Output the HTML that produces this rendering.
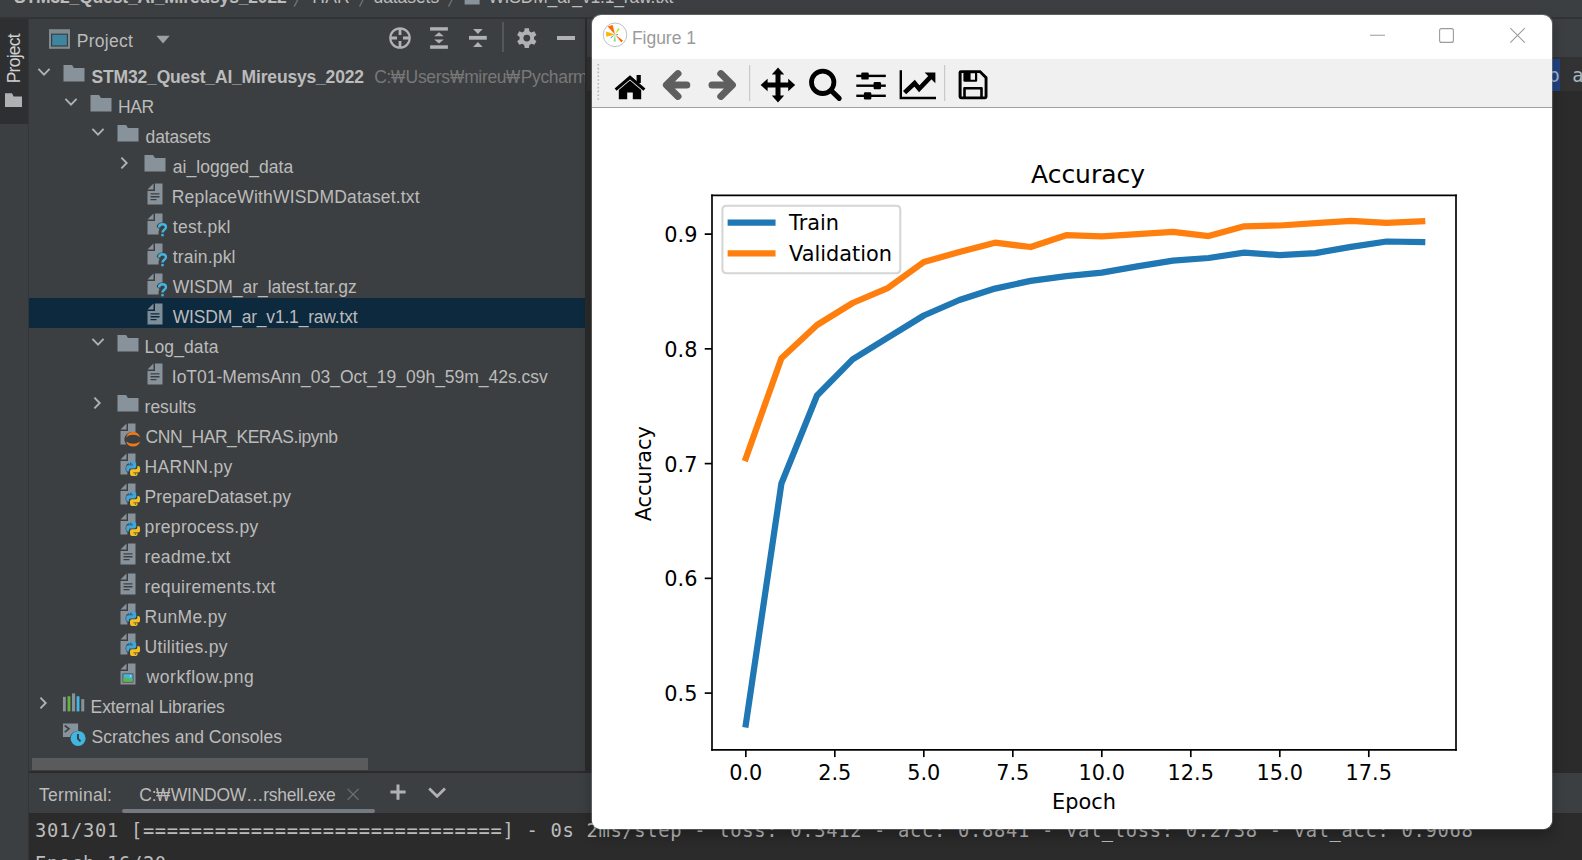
<!DOCTYPE html>
<html lang="en"><head><meta charset="utf-8"><title>Figure 1</title>
<style>
html,body{margin:0;padding:0}
html{background:#3c3f41}
body{width:1582px;height:860px;overflow:hidden;background:#3c3f41;position:relative;font-family:"Liberation Sans",sans-serif}
.abs{position:absolute}
.t{position:absolute;white-space:pre;line-height:30px;height:30px}
.won{display:inline-block;letter-spacing:0}
.won>span{display:inline-block;transform-origin:0 50%}
svg{position:absolute;display:block}
#figure_1 *{stroke-linejoin:round;stroke-linecap:butt}
</style></head>
<body>
<div class="abs" style="left:0px;top:16.9px;width:1582px;height:1.8px;background:#313335;"></div>
<svg style="left:280px;top:0" width="220" height="10" viewBox="280 0 220 10"><g stroke="#6f7376" stroke-width="1.3" fill="none"><path d="M298.6,-2 L294.2,6.6"/><path d="M363.9,-2 L359.5,6.6"/><path d="M452.9,-2 L448.5,6.6"/></g><rect x="464.6" y="-10" width="15" height="14.5" fill="#87929a"/></svg>
<div class="abs" style="left:0px;top:18.6px;width:28px;height:105.2px;background:#2d2f30;"></div>
<div class="abs" style="left:28px;top:17.5px;width:1px;height:843px;background:#333638;"></div>
<svg style="left:4px;top:92px" width="20" height="16" viewBox="0 0 20 16"><polygon fill="#afb1b3" points="1 15 18 15 18 4.6 9.6 4.6 8 1.2 1 1.2"/></svg>
<div class="abs" style="left:585.3px;top:17.5px;width:1.7px;height:754px;background:#2b2b2b;"></div>
<div class="abs" style="left:587px;top:57.3px;width:995px;height:714.5px;background:#2b2b2b;"></div>
<div class="abs" style="left:587px;top:57.3px;width:995px;height:33.6px;background:#323232;"></div>
<div class="abs" style="left:1540px;top:59px;width:20.3px;height:31.5px;background:#214283;"></div>
<svg style="left:48px;top:28px" width="24" height="22" viewBox="0 0 24 22">
<rect x="1" y="1.2" width="21" height="19.6" fill="#7f8b91"/><rect x="3" y="5.6" width="17" height="13" fill="#3c3f41"/><rect x="4.2" y="6.8" width="14.6" height="10.6" fill="#3e86a0"/></svg>
<svg style="left:155px;top:34px" width="16" height="11" viewBox="0 0 16 11"><polygon fill="#9da0a2" points="1.4,1.8 14.7,1.8 8.05,9.4"/></svg>
<svg style="left:388px;top:26px" width="24" height="24" viewBox="0 0 24 24"><g fill="none" stroke="#afb1b3" stroke-width="2.2">
<circle cx="12" cy="12" r="9.7"/><path stroke-width="2.8" d="M12,2.3 V9 M12,15 V21.7 M2.3,12 H9 M15,12 H21.7"/></g></svg>
<svg style="left:428px;top:26px" width="24" height="24" viewBox="0 0 24 24"><g fill="#afb1b3">
<rect x="2.1" y="1.2" width="17.8" height="3.4"/><rect x="2.1" y="19.3" width="17.8" height="3.5"/>
<polygon points="11,6.2 15.8,10.2 6.2,10.2"/><polygon points="11,17.6 15.8,13.4 6.2,13.4"/></g></svg>
<svg style="left:467px;top:26px" width="24" height="24" viewBox="0 0 24 24"><g fill="#afb1b3">
<rect x="2" y="9.9" width="17.8" height="3.8"/>
<polygon points="10.9,7.9 15.7,2.9 6.1,2.9"/><polygon points="10.9,16 15.7,21 6.1,21"/></g></svg>
<div class="abs" style="left:502px;top:22px;width:1.6px;height:30px;background:#555758;"></div>
<svg style="left:514px;top:26px" width="26" height="24" viewBox="0 0 26 24"><path fill="#afb1b3" fill-rule="evenodd" d="M10.69,2.22 L14.91,2.22 L15.37,5.27 L17.43,6.46 L20.30,5.34 L22.41,8.98 L20.00,10.91 L20.00,13.29 L22.41,15.22 L20.30,18.86 L17.43,17.74 L15.37,18.93 L14.91,21.98 L10.69,21.98 L10.23,18.93 L8.17,17.74 L5.30,18.86 L3.19,15.22 L5.60,13.29 L5.60,10.91 L3.19,8.98 L5.30,5.34 L8.17,6.46 L10.23,5.27 Z M16.2,12.1 A3.4,3.4 0 1 0 9.4,12.1 A3.4,3.4 0 1 0 16.2,12.1 Z"/></svg>
<div class="abs" style="left:557px;top:36.2px;width:18px;height:3.5px;background:#afb1b3;"></div>
<svg style="position:absolute;left:35.5px;top:63.900000000000006px" width="16" height="16" viewBox="-8 -8 16 16"><path d="M-5.6,-3.1 L0,2.7 L5.6,-3.1" fill="none" stroke="#afb1b3" stroke-width="1.9"/></svg>
<svg style="position:absolute;left:61.5px;top:61.7px;overflow:visible" width="24" height="24" viewBox="0 0 16 16"><polygon fill="#87929a" points="1 13 15 13 15 4 7.985 4 6.697 2 1 2"/></svg>
<svg style="position:absolute;left:62.5px;top:93.9px" width="16" height="16" viewBox="-8 -8 16 16"><path d="M-5.6,-3.1 L0,2.7 L5.6,-3.1" fill="none" stroke="#afb1b3" stroke-width="1.9"/></svg>
<svg style="position:absolute;left:88.5px;top:91.7px;overflow:visible" width="24" height="24" viewBox="0 0 16 16"><polygon fill="#87929a" points="1 13 15 13 15 4 7.985 4 6.697 2 1 2"/></svg>
<svg style="position:absolute;left:89.5px;top:123.9px" width="16" height="16" viewBox="-8 -8 16 16"><path d="M-5.6,-3.1 L0,2.7 L5.6,-3.1" fill="none" stroke="#afb1b3" stroke-width="1.9"/></svg>
<svg style="position:absolute;left:115.5px;top:121.7px;overflow:visible" width="24" height="24" viewBox="0 0 16 16"><polygon fill="#87929a" points="1 13 15 13 15 4 7.985 4 6.697 2 1 2"/></svg>
<svg style="position:absolute;left:116.4px;top:154.9px" width="16" height="16" viewBox="-8 -8 16 16"><path d="M-2.6,-5.4 L2.7,0 L-2.6,5.4" fill="none" stroke="#afb1b3" stroke-width="1.9"/></svg>
<svg style="position:absolute;left:142.5px;top:151.7px;overflow:visible" width="24" height="24" viewBox="0 0 16 16"><polygon fill="#87929a" points="1 13 15 13 15 4 7.985 4 6.697 2 1 2"/></svg>
<svg style="position:absolute;left:142.5px;top:181.7px;overflow:visible" width="24" height="24" viewBox="0 0 16 16"><polygon fill="#87929a" points="7 1 3 5 7 5"/><path fill="#87929a" fill-rule="evenodd" d="M8,1 L8,6 L3,6 L3,15 L13,15 L13,1 Z M5,7.5 L11,7.5 L11,8.4 L5,8.4 Z M5,9.4 L11,9.4 L11,10.3 L5,10.3 Z M5,11.3 L9,11.3 L9,12.2 L5,12.2 Z"/></svg>
<svg style="position:absolute;left:142.5px;top:211.7px;overflow:visible" width="24" height="24" viewBox="0 0 16 16"><polygon fill="#87929a" points="7 1 3 5 7 5"/><path fill="#87929a" d="M8,1 L8,6 L3,6 L3,15 L10.4,15 L10.4,13.2 C10.4,12 11,11.6 11,11.3 L9.2,10 C9.2,8.4 10.6,7 13,7 L13,1 Z"/><path fill="none" stroke="#40b6e0" stroke-width="1.6" d="M10.7,10.3 C10.7,8.9 11.7,8.2 13,8.2 C14.4,8.2 15.3,9 15.3,10.1 C15.3,11.9 13,11.8 13,13.7"/><rect x="12.2" y="14.6" width="1.6" height="1.6" fill="#40b6e0"/></svg>
<svg style="position:absolute;left:142.5px;top:241.7px;overflow:visible" width="24" height="24" viewBox="0 0 16 16"><polygon fill="#87929a" points="7 1 3 5 7 5"/><path fill="#87929a" d="M8,1 L8,6 L3,6 L3,15 L10.4,15 L10.4,13.2 C10.4,12 11,11.6 11,11.3 L9.2,10 C9.2,8.4 10.6,7 13,7 L13,1 Z"/><path fill="none" stroke="#40b6e0" stroke-width="1.6" d="M10.7,10.3 C10.7,8.9 11.7,8.2 13,8.2 C14.4,8.2 15.3,9 15.3,10.1 C15.3,11.9 13,11.8 13,13.7"/><rect x="12.2" y="14.6" width="1.6" height="1.6" fill="#40b6e0"/></svg>
<svg style="position:absolute;left:142.5px;top:271.7px;overflow:visible" width="24" height="24" viewBox="0 0 16 16"><polygon fill="#87929a" points="7 1 3 5 7 5"/><path fill="#87929a" d="M8,1 L8,6 L3,6 L3,15 L10.4,15 L10.4,13.2 C10.4,12 11,11.6 11,11.3 L9.2,10 C9.2,8.4 10.6,7 13,7 L13,1 Z"/><path fill="none" stroke="#40b6e0" stroke-width="1.6" d="M10.7,10.3 C10.7,8.9 11.7,8.2 13,8.2 C14.4,8.2 15.3,9 15.3,10.1 C15.3,11.9 13,11.8 13,13.7"/><rect x="12.2" y="14.6" width="1.6" height="1.6" fill="#40b6e0"/></svg>
<div style="position:absolute;left:29px;top:298px;width:556px;height:30px;background:#0d293e"></div>
<svg style="position:absolute;left:142.5px;top:301.7px;overflow:visible" width="24" height="24" viewBox="0 0 16 16"><polygon fill="#7e8e99" points="7 1 3 5 7 5"/><path fill="#7e8e99" fill-rule="evenodd" d="M8,1 L8,6 L3,6 L3,15 L13,15 L13,1 Z M5,7.5 L11,7.5 L11,8.4 L5,8.4 Z M5,9.4 L11,9.4 L11,10.3 L5,10.3 Z M5,11.3 L9,11.3 L9,12.2 L5,12.2 Z"/></svg>
<svg style="position:absolute;left:89.5px;top:333.9px" width="16" height="16" viewBox="-8 -8 16 16"><path d="M-5.6,-3.1 L0,2.7 L5.6,-3.1" fill="none" stroke="#afb1b3" stroke-width="1.9"/></svg>
<svg style="position:absolute;left:115.5px;top:331.7px;overflow:visible" width="24" height="24" viewBox="0 0 16 16"><polygon fill="#87929a" points="1 13 15 13 15 4 7.985 4 6.697 2 1 2"/></svg>
<svg style="position:absolute;left:142.5px;top:361.7px;overflow:visible" width="24" height="24" viewBox="0 0 16 16"><polygon fill="#87929a" points="7 1 3 5 7 5"/><path fill="#87929a" fill-rule="evenodd" d="M8,1 L8,6 L3,6 L3,15 L13,15 L13,1 Z M5,7.5 L11,7.5 L11,8.4 L5,8.4 Z M5,9.4 L11,9.4 L11,10.3 L5,10.3 Z M5,11.3 L9,11.3 L9,12.2 L5,12.2 Z"/></svg>
<svg style="position:absolute;left:89.4px;top:394.9px" width="16" height="16" viewBox="-8 -8 16 16"><path d="M-2.6,-5.4 L2.7,0 L-2.6,5.4" fill="none" stroke="#afb1b3" stroke-width="1.9"/></svg>
<svg style="position:absolute;left:115.5px;top:391.7px;overflow:visible" width="24" height="24" viewBox="0 0 16 16"><polygon fill="#87929a" points="1 13 15 13 15 4 7.985 4 6.697 2 1 2"/></svg>
<svg style="position:absolute;left:115.5px;top:421.7px;overflow:visible" width="24" height="24" viewBox="0 0 16 16"><polygon fill="#87929a" points="7 1 3 5 7 5"/><path fill="#87929a" d="M8,1 L8,6 L3,6 L3,15 L7,15 C6,13.8 5.6,12.8 5.6,11.7 C5.6,9 7.8,6.8 10.6,6.6 L13,6.6 L13,1 Z"/><path fill="#ee7a1a" d="M6.75,10.15 A4.87,4.87 0 0 1 16.05,10.15 A7.6,7.6 0 0 0 6.75,10.15 Z M6.75,12.95 A4.87,4.87 0 0 0 16.05,12.95 A7.6,7.6 0 0 1 6.75,12.95 Z"/></svg>
<svg style="position:absolute;left:115.5px;top:451.7px;overflow:visible" width="24" height="24" viewBox="0 0 16 16"><polygon fill="#87929a" points="7 1 3 5 7 5"/><path fill="#87929a" d="M8,1 L8,6 L3,6 L3,15 L7.6,15 L7.6,13.6 C6.8,13 6.4,12.2 6.4,11 C6.4,8.6 8,7 10.4,6.6 L13,6.6 L13,1 Z"/><g transform="translate(0.15,-0.35) scale(0.98)"><path fill="#3fa6dc" d="M9.6,7 h2.8 a1.2,1.2 0 0 1 1.2,1.2 v2.1 a1.2,1.2 0 0 1 -1.2,1.2 h-2.6 a1.2,1.2 0 0 0 -1.2,1.2 v1 h-0.5 a1.3,1.3 0 0 1 -1.3,-1.3 v-1.8 a1.3,1.3 0 0 1 1.3,-1.3 h3.2 v-0.5 h-2.9 v-0.6 a1.2,1.2 0 0 1 1.2,-1.2 z"/><path fill="#f3c123" d="M13.4,16.6 h-2.8 a1.2,1.2 0 0 1 -1.2,-1.2 v-2.1 a1.2,1.2 0 0 1 1.2,-1.2 h2.6 a1.2,1.2 0 0 0 1.2,-1.2 v-1 h0.5 a1.3,1.3 0 0 1 1.3,1.3 v1.8 a1.3,1.3 0 0 1 -1.3,1.3 h-3.2 v0.5 h2.9 v0.6 a1.2,1.2 0 0 1 -1.2,1.2 z"/><circle cx="9.9" cy="8.2" r="0.45" fill="#3c3f41"/><circle cx="13.1" cy="15.4" r="0.45" fill="#3c3f41"/></g></svg>
<svg style="position:absolute;left:115.5px;top:481.7px;overflow:visible" width="24" height="24" viewBox="0 0 16 16"><polygon fill="#87929a" points="7 1 3 5 7 5"/><path fill="#87929a" d="M8,1 L8,6 L3,6 L3,15 L7.6,15 L7.6,13.6 C6.8,13 6.4,12.2 6.4,11 C6.4,8.6 8,7 10.4,6.6 L13,6.6 L13,1 Z"/><g transform="translate(0.15,-0.35) scale(0.98)"><path fill="#3fa6dc" d="M9.6,7 h2.8 a1.2,1.2 0 0 1 1.2,1.2 v2.1 a1.2,1.2 0 0 1 -1.2,1.2 h-2.6 a1.2,1.2 0 0 0 -1.2,1.2 v1 h-0.5 a1.3,1.3 0 0 1 -1.3,-1.3 v-1.8 a1.3,1.3 0 0 1 1.3,-1.3 h3.2 v-0.5 h-2.9 v-0.6 a1.2,1.2 0 0 1 1.2,-1.2 z"/><path fill="#f3c123" d="M13.4,16.6 h-2.8 a1.2,1.2 0 0 1 -1.2,-1.2 v-2.1 a1.2,1.2 0 0 1 1.2,-1.2 h2.6 a1.2,1.2 0 0 0 1.2,-1.2 v-1 h0.5 a1.3,1.3 0 0 1 1.3,1.3 v1.8 a1.3,1.3 0 0 1 -1.3,1.3 h-3.2 v0.5 h2.9 v0.6 a1.2,1.2 0 0 1 -1.2,1.2 z"/><circle cx="9.9" cy="8.2" r="0.45" fill="#3c3f41"/><circle cx="13.1" cy="15.4" r="0.45" fill="#3c3f41"/></g></svg>
<svg style="position:absolute;left:115.5px;top:511.7px;overflow:visible" width="24" height="24" viewBox="0 0 16 16"><polygon fill="#87929a" points="7 1 3 5 7 5"/><path fill="#87929a" d="M8,1 L8,6 L3,6 L3,15 L7.6,15 L7.6,13.6 C6.8,13 6.4,12.2 6.4,11 C6.4,8.6 8,7 10.4,6.6 L13,6.6 L13,1 Z"/><g transform="translate(0.15,-0.35) scale(0.98)"><path fill="#3fa6dc" d="M9.6,7 h2.8 a1.2,1.2 0 0 1 1.2,1.2 v2.1 a1.2,1.2 0 0 1 -1.2,1.2 h-2.6 a1.2,1.2 0 0 0 -1.2,1.2 v1 h-0.5 a1.3,1.3 0 0 1 -1.3,-1.3 v-1.8 a1.3,1.3 0 0 1 1.3,-1.3 h3.2 v-0.5 h-2.9 v-0.6 a1.2,1.2 0 0 1 1.2,-1.2 z"/><path fill="#f3c123" d="M13.4,16.6 h-2.8 a1.2,1.2 0 0 1 -1.2,-1.2 v-2.1 a1.2,1.2 0 0 1 1.2,-1.2 h2.6 a1.2,1.2 0 0 0 1.2,-1.2 v-1 h0.5 a1.3,1.3 0 0 1 1.3,1.3 v1.8 a1.3,1.3 0 0 1 -1.3,1.3 h-3.2 v0.5 h2.9 v0.6 a1.2,1.2 0 0 1 -1.2,1.2 z"/><circle cx="9.9" cy="8.2" r="0.45" fill="#3c3f41"/><circle cx="13.1" cy="15.4" r="0.45" fill="#3c3f41"/></g></svg>
<svg style="position:absolute;left:115.5px;top:541.7px;overflow:visible" width="24" height="24" viewBox="0 0 16 16"><polygon fill="#87929a" points="7 1 3 5 7 5"/><path fill="#87929a" fill-rule="evenodd" d="M8,1 L8,6 L3,6 L3,15 L13,15 L13,1 Z M5,7.5 L11,7.5 L11,8.4 L5,8.4 Z M5,9.4 L11,9.4 L11,10.3 L5,10.3 Z M5,11.3 L9,11.3 L9,12.2 L5,12.2 Z"/></svg>
<svg style="position:absolute;left:115.5px;top:571.7px;overflow:visible" width="24" height="24" viewBox="0 0 16 16"><polygon fill="#87929a" points="7 1 3 5 7 5"/><path fill="#87929a" fill-rule="evenodd" d="M8,1 L8,6 L3,6 L3,15 L13,15 L13,1 Z M5,7.5 L11,7.5 L11,8.4 L5,8.4 Z M5,9.4 L11,9.4 L11,10.3 L5,10.3 Z M5,11.3 L9,11.3 L9,12.2 L5,12.2 Z"/></svg>
<svg style="position:absolute;left:115.5px;top:601.7px;overflow:visible" width="24" height="24" viewBox="0 0 16 16"><polygon fill="#87929a" points="7 1 3 5 7 5"/><path fill="#87929a" d="M8,1 L8,6 L3,6 L3,15 L7.6,15 L7.6,13.6 C6.8,13 6.4,12.2 6.4,11 C6.4,8.6 8,7 10.4,6.6 L13,6.6 L13,1 Z"/><g transform="translate(0.15,-0.35) scale(0.98)"><path fill="#3fa6dc" d="M9.6,7 h2.8 a1.2,1.2 0 0 1 1.2,1.2 v2.1 a1.2,1.2 0 0 1 -1.2,1.2 h-2.6 a1.2,1.2 0 0 0 -1.2,1.2 v1 h-0.5 a1.3,1.3 0 0 1 -1.3,-1.3 v-1.8 a1.3,1.3 0 0 1 1.3,-1.3 h3.2 v-0.5 h-2.9 v-0.6 a1.2,1.2 0 0 1 1.2,-1.2 z"/><path fill="#f3c123" d="M13.4,16.6 h-2.8 a1.2,1.2 0 0 1 -1.2,-1.2 v-2.1 a1.2,1.2 0 0 1 1.2,-1.2 h2.6 a1.2,1.2 0 0 0 1.2,-1.2 v-1 h0.5 a1.3,1.3 0 0 1 1.3,1.3 v1.8 a1.3,1.3 0 0 1 -1.3,1.3 h-3.2 v0.5 h2.9 v0.6 a1.2,1.2 0 0 1 -1.2,1.2 z"/><circle cx="9.9" cy="8.2" r="0.45" fill="#3c3f41"/><circle cx="13.1" cy="15.4" r="0.45" fill="#3c3f41"/></g></svg>
<svg style="position:absolute;left:115.5px;top:631.7px;overflow:visible" width="24" height="24" viewBox="0 0 16 16"><polygon fill="#87929a" points="7 1 3 5 7 5"/><path fill="#87929a" d="M8,1 L8,6 L3,6 L3,15 L7.6,15 L7.6,13.6 C6.8,13 6.4,12.2 6.4,11 C6.4,8.6 8,7 10.4,6.6 L13,6.6 L13,1 Z"/><g transform="translate(0.15,-0.35) scale(0.98)"><path fill="#3fa6dc" d="M9.6,7 h2.8 a1.2,1.2 0 0 1 1.2,1.2 v2.1 a1.2,1.2 0 0 1 -1.2,1.2 h-2.6 a1.2,1.2 0 0 0 -1.2,1.2 v1 h-0.5 a1.3,1.3 0 0 1 -1.3,-1.3 v-1.8 a1.3,1.3 0 0 1 1.3,-1.3 h3.2 v-0.5 h-2.9 v-0.6 a1.2,1.2 0 0 1 1.2,-1.2 z"/><path fill="#f3c123" d="M13.4,16.6 h-2.8 a1.2,1.2 0 0 1 -1.2,-1.2 v-2.1 a1.2,1.2 0 0 1 1.2,-1.2 h2.6 a1.2,1.2 0 0 0 1.2,-1.2 v-1 h0.5 a1.3,1.3 0 0 1 1.3,1.3 v1.8 a1.3,1.3 0 0 1 -1.3,1.3 h-3.2 v0.5 h2.9 v0.6 a1.2,1.2 0 0 1 -1.2,1.2 z"/><circle cx="9.9" cy="8.2" r="0.45" fill="#3c3f41"/><circle cx="13.1" cy="15.4" r="0.45" fill="#3c3f41"/></g></svg>
<svg style="position:absolute;left:115.5px;top:661.7px;overflow:visible" width="24" height="24" viewBox="0 0 16 16"><polygon fill="#87929a" points="7 1 3 5 7 5"/><path fill="#87929a" fill-rule="evenodd" d="M8,1 L8,6 L3,6 L3,15 L13,15 L13,1 Z M4.4,7.6 L11.6,7.6 L11.6,13.6 L4.4,13.6 Z"/><rect x="4.9" y="8.1" width="6.2" height="5" fill="#40b6e0"/><path fill="#62b543" d="M4.9,13.1 L4.9,11.2 C6,10 7.4,10 8.4,11 C9.4,11.6 10.2,11.2 11.1,11.4 L11.1,13.1 Z"/><circle cx="9.8" cy="9.3" r="0.5" fill="#cfe9f5"/></svg>
<svg style="position:absolute;left:35.4px;top:694.9px" width="16" height="16" viewBox="-8 -8 16 16"><path d="M-2.6,-5.4 L2.7,0 L-2.6,5.4" fill="none" stroke="#afb1b3" stroke-width="1.9"/></svg>
<svg style="position:absolute;left:60.9px;top:690.7px;overflow:visible" width="24" height="24" viewBox="0 0 16 16"><rect x="1.3" y="3.9" width="1.9" height="9.7" fill="#87929a"/><rect x="4.35" y="3.5" width="1.9" height="10.1" fill="#62b543"/><rect x="7.3" y="1.6" width="2.1" height="12" fill="#87929a"/><rect x="10.4" y="3.5" width="1.9" height="10.1" fill="#40b6e0"/><rect x="13.5" y="5.4" width="2" height="8.2" fill="#87929a"/></svg>
<svg style="position:absolute;left:60.9px;top:720.7px;overflow:visible" width="24" height="24" viewBox="0 0 16 16"><path fill="#87929a" d="M1.3,1.7 L11.4,1.7 L11.4,6.6 C8.6,6.6 6.4,8.4 6.2,10.6 L1.3,10.6 Z"/><path fill="none" stroke="#3c3f41" stroke-width="1.1" d="M2.5,3 L5.3,5.2 L2.5,7.4"/><circle cx="11.4" cy="11.6" r="5" fill="#40b6e0"/><path fill="none" stroke="#3c3f41" stroke-width="1.3" d="M11.3,8.6 L11.3,11.8 L13,13.6"/></svg>
<div class="abs" style="left:32.3px;top:758px;width:336px;height:12px;background:#595b5d;"></div>
<div class="abs" style="left:29px;top:771px;width:1553px;height:1.7px;background:#2b2b2b;"></div>
<div class="abs" style="left:122.2px;top:809.2px;width:253.2px;height:4px;background:#747a80;border-radius:2px 2px 2px 2px"></div>
<div class="abs" style="left:29px;top:812.6px;width:1553px;height:48px;background:#2b2b2b;"></div>
<svg style="left:345px;top:786px" width="16" height="16" viewBox="0 0 16 16"><path d="M2.6,2.9 L13.6,13.7 M13.6,2.9 L2.6,13.7" stroke="#6e7072" stroke-width="1.2" fill="none"/></svg>
<svg style="left:388px;top:782px" width="20" height="20" viewBox="0 0 20 20"><path d="M10,2.5 V17.7 M2.4,10.1 H17.6" stroke="#afb1b3" stroke-width="3" fill="none"/></svg>
<svg style="left:426px;top:784px" width="22" height="18" viewBox="0 0 22 18"><path d="M3.2,4.6 L11.1,12.2 L19,4.6" stroke="#afb1b3" stroke-width="2.8" fill="none"/></svg>
<div class="t" style="left:35.00px;top:815.70px;color:#bbbbbb;font-weight:normal;font-size:18.8px;letter-spacing:0.680px;font-family:'DejaVu Sans Mono', 'Liberation Mono', monospace;">301/301 [==============================] - 0s 2ms/step - loss: 0.3412 - acc: 0.8841 - val_loss: 0.2738 - val_acc: 0.9068</div>
<div class="t" style="left:35.00px;top:849.10px;color:#bbbbbb;font-weight:normal;font-size:18.8px;letter-spacing:0.680px;font-family:'DejaVu Sans Mono', 'Liberation Mono', monospace;">Epoch 16/20</div>
<div class="t" style="left:1548.40px;top:60.50px;color:#a9b7c6;font-weight:normal;font-size:18.8px;letter-spacing:0.680px;font-family:'DejaVu Sans Mono', 'Liberation Mono', monospace;">o a</div>
<div class="t" style="left:0px;top:0px;line-height:0;height:0;color:#d0d0d0;font-size:17.5px;letter-spacing:-0.75px;transform:translate(14.1px,83.3px) rotate(-90deg);transform-origin:0 0"><span style="display:inline-block;line-height:0;position:relative;top:0">Project</span></div>
<div class="t" style="left:91.60px;top:61.54px;color:#bbbbbb;font-weight:bold;font-size:17.5px;letter-spacing:-0.178px;">STM32_Quest_AI_Mireusys_2022</div>
<div class="t" style="left:117.90px;top:91.54px;color:#bbbbbb;font-weight:normal;font-size:17.5px;letter-spacing:-0.305px;">HAR</div>
<div class="t" style="left:145.60px;top:121.54px;color:#bbbbbb;font-weight:normal;font-size:17.5px;letter-spacing:-0.144px;">datasets</div>
<div class="t" style="left:172.80px;top:151.54px;color:#bbbbbb;font-weight:normal;font-size:17.5px;letter-spacing:0.049px;">ai_logged_data</div>
<div class="t" style="left:171.80px;top:181.54px;color:#bbbbbb;font-weight:normal;font-size:17.5px;letter-spacing:0.182px;">ReplaceWithWISDMDataset.txt</div>
<div class="t" style="left:172.80px;top:211.54px;color:#bbbbbb;font-weight:normal;font-size:17.5px;letter-spacing:0.307px;">test.pkl</div>
<div class="t" style="left:172.80px;top:241.54px;color:#bbbbbb;font-weight:normal;font-size:17.5px;letter-spacing:0.177px;">train.pkl</div>
<div class="t" style="left:172.80px;top:271.54px;color:#bbbbbb;font-weight:normal;font-size:17.5px;letter-spacing:-0.040px;">WISDM_ar_latest.tar.gz</div>
<div class="t" style="left:172.80px;top:301.54px;color:#bbbbbb;font-weight:normal;font-size:17.5px;letter-spacing:-0.195px;">WISDM_ar_v1.1_raw.txt</div>
<div class="t" style="left:144.60px;top:331.54px;color:#bbbbbb;font-weight:normal;font-size:17.5px;letter-spacing:0.120px;">Log_data</div>
<div class="t" style="left:171.80px;top:361.54px;color:#bbbbbb;font-weight:normal;font-size:17.5px;letter-spacing:-0.011px;">IoT01-MemsAnn_03_Oct_19_09h_59m_42s.csv</div>
<div class="t" style="left:144.60px;top:391.54px;color:#bbbbbb;font-weight:normal;font-size:17.5px;letter-spacing:-0.032px;">results</div>
<div class="t" style="left:145.60px;top:421.54px;color:#bbbbbb;font-weight:normal;font-size:17.5px;letter-spacing:-0.440px;">CNN_HAR_KERAS.ipynb</div>
<div class="t" style="left:144.60px;top:451.54px;color:#bbbbbb;font-weight:normal;font-size:17.5px;letter-spacing:0.283px;">HARNN.py</div>
<div class="t" style="left:144.60px;top:481.54px;color:#bbbbbb;font-weight:normal;font-size:17.5px;letter-spacing:0.027px;">PrepareDataset.py</div>
<div class="t" style="left:144.60px;top:511.54px;color:#bbbbbb;font-weight:normal;font-size:17.5px;letter-spacing:0.320px;">preprocess.py</div>
<div class="t" style="left:144.60px;top:541.54px;color:#bbbbbb;font-weight:normal;font-size:17.5px;letter-spacing:0.343px;">readme.txt</div>
<div class="t" style="left:144.60px;top:571.54px;color:#bbbbbb;font-weight:normal;font-size:17.5px;letter-spacing:0.360px;">requirements.txt</div>
<div class="t" style="left:144.60px;top:601.54px;color:#bbbbbb;font-weight:normal;font-size:17.5px;letter-spacing:0.299px;">RunMe.py</div>
<div class="t" style="left:144.60px;top:631.54px;color:#bbbbbb;font-weight:normal;font-size:17.5px;letter-spacing:0.283px;">Utilities.py</div>
<div class="t" style="left:146.60px;top:661.54px;color:#bbbbbb;font-weight:normal;font-size:17.5px;letter-spacing:0.552px;">workflow.png</div>
<div class="t" style="left:90.60px;top:691.54px;color:#bbbbbb;font-weight:normal;font-size:17.5px;letter-spacing:-0.113px;">External Libraries</div>
<div class="t" style="left:91.60px;top:721.54px;color:#bbbbbb;font-weight:normal;font-size:17.5px;letter-spacing:0.036px;">Scratches and Consoles</div>
<div class="t" style="left:76.70px;top:25.94px;color:#bbbbbb;font-weight:normal;font-size:17.5px;letter-spacing:0.283px;">Project</div>
<div class="t" style="left:39.10px;top:779.94px;color:#bbbbbb;font-weight:normal;font-size:17.5px;letter-spacing:0.221px;">Terminal:</div>
<div class="t" style="left:374.20px;top:61.54px;color:#787878;font-weight:normal;font-size:17.5px;letter-spacing:-0.350px;width:211.10px;overflow:hidden;">C:<span class="won" style="width:14.6px"><span style="transform:scaleX(0.86)">₩</span></span>Users<span class="won" style="width:14.6px"><span style="transform:scaleX(0.86)">₩</span></span>mireu<span class="won" style="width:14.6px"><span style="transform:scaleX(0.86)">₩</span></span>PycharmProjects</div>
<div class="t" style="left:139.30px;top:779.94px;color:#bbbbbb;font-weight:normal;font-size:17.5px;letter-spacing:-0.270px;">C:<span class="won" style="width:14.6px"><span style="transform:scaleX(0.86)">₩</span></span>WINDOW…rshell.exe</div>
<div class="t" style="left:14.00px;top:-18.26px;color:#bbbbbb;font-weight:bold;font-size:17.5px;letter-spacing:-0.167px;">STM32_Quest_AI_Mireusys_2022</div>
<div class="t" style="left:312.30px;top:-18.26px;color:#bbbbbb;font-weight:normal;font-size:17.5px;letter-spacing:0.245px;">HAR</div>
<div class="t" style="left:373.50px;top:-18.26px;color:#bbbbbb;font-weight:normal;font-size:17.5px;letter-spacing:-0.072px;">datasets</div>
<div class="t" style="left:488.20px;top:-18.26px;color:#bbbbbb;font-weight:normal;font-size:17.5px;letter-spacing:-0.175px;">WISDM_ar_v1.1_raw.txt</div>
<div class="abs" id="win" style="left:592px;top:14.8px;width:960px;height:814.2px;background:#fff;border-radius:9px;box-shadow:0 0 0 1.1px rgba(150,150,150,.42),0 6px 14px rgba(0,0,0,.3);overflow:hidden">
<div class="abs" style="left:0;top:-0.8px;width:960px;height:815px">
<div class="abs" style="left:0;top:45px;width:960px;height:48px;background:#f0f0f0;border-bottom:1.4px solid #a0a0a0;box-sizing:content-box"></div>
<svg style="left:0;top:0" width="960" height="96" viewBox="592 14 960 96"><!-- matplotlib logo -->
<g>
<circle cx="615" cy="34.8" r="11.8" fill="#fff" stroke="#b9b9b9" stroke-width="0.9"/>
<polygon fill="#ff6a00" points="615,34.6 607.6,26.6 612.6,24.9"/>
<polygon fill="#ff6a00" points="615,34.6 623,40.6 621.4,42.4"/>
<polygon fill="#ffb300" points="615,34.6 606.2,31.4 606.2,36.8"/>
<polygon fill="#b4f02c" points="615,34.6 618,28.0 619.9,29.3"/>
<polygon fill="#7fe37a" points="615,34.6 613.5,41.6 615.9,41.6"/>
<polygon fill="#4fb8a0" points="615,34.6 610.4,37.2 611.2,38.2"/>
<polygon fill="#3b6fd0" points="615,34.6 618,33.9 618,35"/>
</g>
<!-- window controls -->
<g fill="none" stroke="#9b9b9b" stroke-width="1.1">
<path d="M1370,35.3 H1385"/>
<rect x="1439.6" y="28.6" width="13.8" height="13.8" rx="2"/>
<path d="M1510.3,28.1 L1524.8,42.6 M1524.8,28.1 L1510.3,42.6"/>
</g>
<!-- toolbar grip -->
<path d="M598.3,64 V102" stroke="#b4b4b4" stroke-width="1.6" stroke-dasharray="1.6 2.2" fill="none"/>
<!-- home -->
<g fill="#000">
<path d="M630,75.2 L645.4,88.4 L643.4,90.8 L630,79.4 L616.6,90.8 L614.6,88.4 Z"/>
<rect x="636.6" y="75" width="4.2" height="8"/>
<path d="M630,80.5 L641.2,90 V99.2 H632.8 V92.6 H627.2 V99.2 H618.8 V90 Z"/>
</g>
<!-- back / forward -->
<g fill="none" stroke="#5f5f5f" stroke-width="7" stroke-linecap="round" stroke-linejoin="round">
<path d="M678,73.6 L666.4,85 L678,96.4 M667.4,85 H686.8"/>
<path d="M720.8,73.6 L732.4,85 L720.8,96.4 M731.4,85 H712"/>
</g>
<path d="M749.6,65 V101" stroke="#c9c9c9" stroke-width="1.2"/>
<!-- pan -->
<g fill="#000">
<rect x="775.5" y="72" width="5" height="26"/>
<rect x="765" y="82.5" width="26" height="5"/>
<polygon points="778,67.4 784.2,74.4 771.8,74.4"/>
<polygon points="778,102.4 784.2,95.6 771.8,95.6"/>
<polygon points="760.6,85 767.6,78.8 767.6,91.2"/>
<polygon points="795.2,85 788.2,78.8 788.2,91.2"/>
</g>
<!-- zoom -->
<g fill="none" stroke="#000">
<circle cx="822.7" cy="82.3" r="11.2" stroke-width="4.8"/>
<path d="M831.2,90.6 L839.2,98.4" stroke-width="5" stroke-linecap="round"/>
</g>
<!-- sliders -->
<g fill="#000">
<rect x="856.3" y="74.7" width="29.5" height="2.4"/>
<rect x="856.3" y="84.5" width="29.5" height="2.4"/>
<rect x="856.3" y="94.6" width="29.5" height="2.4"/>
<rect x="861.3" y="72.4" width="7.4" height="7.2" rx="1.2"/>
<rect x="873.6" y="82.1" width="7.4" height="7.2" rx="1.2"/>
<rect x="863.9" y="92.2" width="7.4" height="7.2" rx="1.2"/>
</g>
<!-- chart -->
<g fill="none" stroke="#000">
<path d="M900.8,70.2 V98 H936" stroke-width="2.4"/>
<path d="M904.6,92.6 L914.6,83.2 L919.2,88.8 L930.4,77.2" stroke-width="4.6" stroke-linejoin="miter"/>
</g>
<polygon fill="#000" points="924.6,72.4 935.4,72.4 935.4,83.2"/>
<path d="M944.6,65 V101" stroke="#c9c9c9" stroke-width="1.2"/>
<!-- save -->
<g>
<path fill="#000" fill-rule="evenodd" d="M961,70.2 H980.6 L987.5,77.1 V96.8 A2.4,2.4 0 0 1 985.1,99.2 H961 A2.4,2.4 0 0 1 958.6,96.8 V72.6 A2.4,2.4 0 0 1 961,70.2 Z M961.6,73 V96.4 H984.6 V78.3 L979.4,73 Z"/>
<path fill="#000" fill-rule="evenodd" d="M963.4,72 H977.2 V80.6 A1.2,1.2 0 0 1 976,81.8 H964.6 A1.2,1.2 0 0 1 963.4,80.6 Z M970.6,73.2 V79.8 H975 V73.2 Z"/>
<path fill="#000" fill-rule="evenodd" d="M964.4,87 H981.6 A1.2,1.2 0 0 1 982.8,88.2 V97.6 H963.2 V88.2 A1.2,1.2 0 0 1 964.4,87 Z M965.8,89.6 V97 H980.2 V89.6 Z"/>
</g>
</svg>
<svg width="960" height="720" viewBox="0 0 460.8 345.6" style="left:0;top:94.5px">
<defs>

</defs>
<g id="figure_1">
<g id="patch_1">
<path d="M 0 345.6 L 460.8 345.6 L 460.8 0 L 0 0 z" style="fill: #ffffff"/>
</g>
<g id="axes_1">
<g id="patch_2">
<path d="M 57.6 307.584 L 414.72 307.584 L 414.72 41.472 L 57.6 41.472 z" style="fill: #ffffff"/>
</g>
<g id="matplotlib.axis_1">
<g id="xtick_1">
<g id="line2d_1">
<g>
<path d="M 0 0 L 0 3.5" transform="translate(73.832727 307.584)" style="stroke: #000000; stroke-width: 0.8"/>
</g>
</g>
<g id="text_1">
<text style="font-size: 10px; font-family: 'DejaVu Sans', sans-serif; text-anchor: middle" x="73.832727" y="322.182437">0.0</text>
</g>
</g>
<g id="xtick_2">
<g id="line2d_2">
<g>
<path d="M 0 0 L 0 3.5" transform="translate(116.550431 307.584)" style="stroke: #000000; stroke-width: 0.8"/>
</g>
</g>
<g id="text_2">
<text style="font-size: 10px; font-family: 'DejaVu Sans', sans-serif; text-anchor: middle" x="116.550431" y="322.182437">2.5</text>
</g>
</g>
<g id="xtick_3">
<g id="line2d_3">
<g>
<path d="M 0 0 L 0 3.5" transform="translate(159.268134 307.584)" style="stroke: #000000; stroke-width: 0.8"/>
</g>
</g>
<g id="text_3">
<text style="font-size: 10px; font-family: 'DejaVu Sans', sans-serif; text-anchor: middle" x="159.268134" y="322.182437">5.0</text>
</g>
</g>
<g id="xtick_4">
<g id="line2d_4">
<g>
<path d="M 0 0 L 0 3.5" transform="translate(201.985837 307.584)" style="stroke: #000000; stroke-width: 0.8"/>
</g>
</g>
<g id="text_4">
<text style="font-size: 10px; font-family: 'DejaVu Sans', sans-serif; text-anchor: middle" x="201.985837" y="322.182437">7.5</text>
</g>
</g>
<g id="xtick_5">
<g id="line2d_5">
<g>
<path d="M 0 0 L 0 3.5" transform="translate(244.703541 307.584)" style="stroke: #000000; stroke-width: 0.8"/>
</g>
</g>
<g id="text_5">
<text style="font-size: 10px; font-family: 'DejaVu Sans', sans-serif; text-anchor: middle" x="244.703541" y="322.182437">10.0</text>
</g>
</g>
<g id="xtick_6">
<g id="line2d_6">
<g>
<path d="M 0 0 L 0 3.5" transform="translate(287.421244 307.584)" style="stroke: #000000; stroke-width: 0.8"/>
</g>
</g>
<g id="text_6">
<text style="font-size: 10px; font-family: 'DejaVu Sans', sans-serif; text-anchor: middle" x="287.421244" y="322.182437">12.5</text>
</g>
</g>
<g id="xtick_7">
<g id="line2d_7">
<g>
<path d="M 0 0 L 0 3.5" transform="translate(330.138947 307.584)" style="stroke: #000000; stroke-width: 0.8"/>
</g>
</g>
<g id="text_7">
<text style="font-size: 10px; font-family: 'DejaVu Sans', sans-serif; text-anchor: middle" x="330.138947" y="322.182437">15.0</text>
</g>
</g>
<g id="xtick_8">
<g id="line2d_8">
<g>
<path d="M 0 0 L 0 3.5" transform="translate(372.856651 307.584)" style="stroke: #000000; stroke-width: 0.8"/>
</g>
</g>
<g id="text_8">
<text style="font-size: 10px; font-family: 'DejaVu Sans', sans-serif; text-anchor: middle" x="372.856651" y="322.182437">17.5</text>
</g>
</g>
<g id="text_9">
<text style="font-size: 10px; font-family: 'DejaVu Sans', sans-serif; text-anchor: middle" x="236.16" y="335.860562">Epoch</text>
</g>
</g>
<g id="matplotlib.axis_2">
<g id="ytick_1">
<g id="line2d_9">
<g>
<path d="M 0 0 L -3.5 0" transform="translate(57.6 280.368)" style="stroke: #000000; stroke-width: 0.8"/>
</g>
</g>
<g id="text_10">
<text style="font-size: 10px; font-family: 'DejaVu Sans', sans-serif; text-anchor: end" x="50.6" y="284.167219">0.5</text>
</g>
</g>
<g id="ytick_2">
<g id="line2d_10">
<g>
<path d="M 0 0 L -3.5 0" transform="translate(57.6 225.288)" style="stroke: #000000; stroke-width: 0.8"/>
</g>
</g>
<g id="text_11">
<text style="font-size: 10px; font-family: 'DejaVu Sans', sans-serif; text-anchor: end" x="50.6" y="229.087219">0.6</text>
</g>
</g>
<g id="ytick_3">
<g id="line2d_11">
<g>
<path d="M 0 0 L -3.5 0" transform="translate(57.6 170.208)" style="stroke: #000000; stroke-width: 0.8"/>
</g>
</g>
<g id="text_12">
<text style="font-size: 10px; font-family: 'DejaVu Sans', sans-serif; text-anchor: end" x="50.6" y="174.007219">0.7</text>
</g>
</g>
<g id="ytick_4">
<g id="line2d_12">
<g>
<path d="M 0 0 L -3.5 0" transform="translate(57.6 115.128)" style="stroke: #000000; stroke-width: 0.8"/>
</g>
</g>
<g id="text_13">
<text style="font-size: 10px; font-family: 'DejaVu Sans', sans-serif; text-anchor: end" x="50.6" y="118.927219">0.8</text>
</g>
</g>
<g id="ytick_5">
<g id="line2d_13">
<g>
<path d="M 0 0 L -3.5 0" transform="translate(57.6 60.048)" style="stroke: #000000; stroke-width: 0.8"/>
</g>
</g>
<g id="text_14">
<text style="font-size: 10px; font-family: 'DejaVu Sans', sans-serif; text-anchor: end" x="50.6" y="63.847219">0.9</text>
</g>
</g>
<g id="text_15">
<text style="font-size: 10px; font-family: 'DejaVu Sans', sans-serif; text-anchor: middle" x="28.2" y="175.1" transform="rotate(-90 28.2 175.1)">Accuracy</text>
</g>
</g>
<g id="line2d_14">
<path d="M 73.832727 295.392 L 90.919809 179.76 L 108.00689 137.52 L 125.093971 120.192 L 142.181053 109.632 L 159.268134 99.12 L 176.355215 91.68 L 193.442297 86.208 L 210.529378 82.512 L 227.616459 80.256 L 244.703541 78.528 L 261.790622 75.552 L 278.877703 72.768 L 295.964785 71.52 L 313.051866 68.928 L 330.138947 70.128 L 347.226029 69.168 L 364.31311 66.192 L 381.400191 63.6 L 398.487273 63.84" clip-path="url(#p94047a5fad)" style="fill: none; stroke: #1f77b4; stroke-width: 3; stroke-linecap: square"/>
</g>
<g id="line2d_15">
<path d="M 73.832727 167.616 L 90.919809 119.664 L 108.00689 103.68 L 125.093971 93.12 L 142.181053 85.824 L 159.268134 73.44 L 176.355215 68.688 L 193.442297 64.176 L 210.529378 66.24 L 227.616459 60.576 L 244.703541 61.104 L 261.790622 60.096 L 278.877703 58.992 L 295.964785 61.008 L 313.051866 56.304 L 330.138947 55.92 L 347.226029 54.768 L 364.31311 53.712 L 381.400191 54.624 L 398.487273 53.856" clip-path="url(#p94047a5fad)" style="fill: none; stroke: #ff7f0e; stroke-width: 3; stroke-linecap: square"/>
</g>
<g id="patch_3">
<path d="M 57.6 307.584 L 57.6 41.472" style="fill: none; stroke: #000000; stroke-width: 0.8; stroke-linejoin: miter; stroke-linecap: square"/>
</g>
<g id="patch_4">
<path d="M 414.72 307.584 L 414.72 41.472" style="fill: none; stroke: #000000; stroke-width: 0.8; stroke-linejoin: miter; stroke-linecap: square"/>
</g>
<g id="patch_5">
<path d="M 57.6 307.584 L 414.72 307.584" style="fill: none; stroke: #000000; stroke-width: 0.8; stroke-linejoin: miter; stroke-linecap: square"/>
</g>
<g id="patch_6">
<path d="M 57.6 41.472 L 414.72 41.472" style="fill: none; stroke: #000000; stroke-width: 0.8; stroke-linejoin: miter; stroke-linecap: square"/>
</g>
<g id="text_16">
<text style="font-size: 12px; font-family: 'DejaVu Sans', sans-serif; text-anchor: middle" x="238.1" y="35.472">Accuracy</text>
</g>
<g id="legend_1">
<g id="patch_7">
<path d="M 64.6 78.82825 L 145.98125 78.82825 Q 147.98125 78.82825 147.98125 76.82825 L 147.98125 48.472 Q 147.98125 46.472 145.98125 46.472 L 64.6 46.472 Q 62.6 46.472 62.6 48.472 L 62.6 76.82825 Q 62.6 78.82825 64.6 78.82825 z" style="fill: #ffffff; opacity: 0.8; stroke: #cccccc; stroke-linejoin: miter"/>
</g>
<g id="line2d_16">
<path d="M 66.6 54.570437 L 76.6 54.570437 L 86.6 54.570437" style="fill: none; stroke: #1f77b4; stroke-width: 3; stroke-linecap: square"/>
</g>
<g id="text_17">
<text style="font-size: 10px; font-family: 'DejaVu Sans', sans-serif; text-anchor: start" x="94.6" y="58.070437">Train</text>
</g>
<g id="line2d_17">
<path d="M 66.6 69.248562 L 76.6 69.248562 L 86.6 69.248562" style="fill: none; stroke: #ff7f0e; stroke-width: 3; stroke-linecap: square"/>
</g>
<g id="text_18">
<text style="font-size: 10px; font-family: 'DejaVu Sans', sans-serif; text-anchor: start" x="94.6" y="72.748562">Validation</text>
</g>
</g>
</g>
</g>
<defs>
<clipPath id="p94047a5fad">
<rect x="57.6" y="41.472" width="357.12" height="266.112"/>
</clipPath>
</defs>
</svg>

<div class="t" style="left:39.90px;top:8.84px;color:#9a9a9a;font-weight:normal;font-size:17.5px;letter-spacing:-0.024px;">Figure 1</div>
</div></div>
</body></html>
